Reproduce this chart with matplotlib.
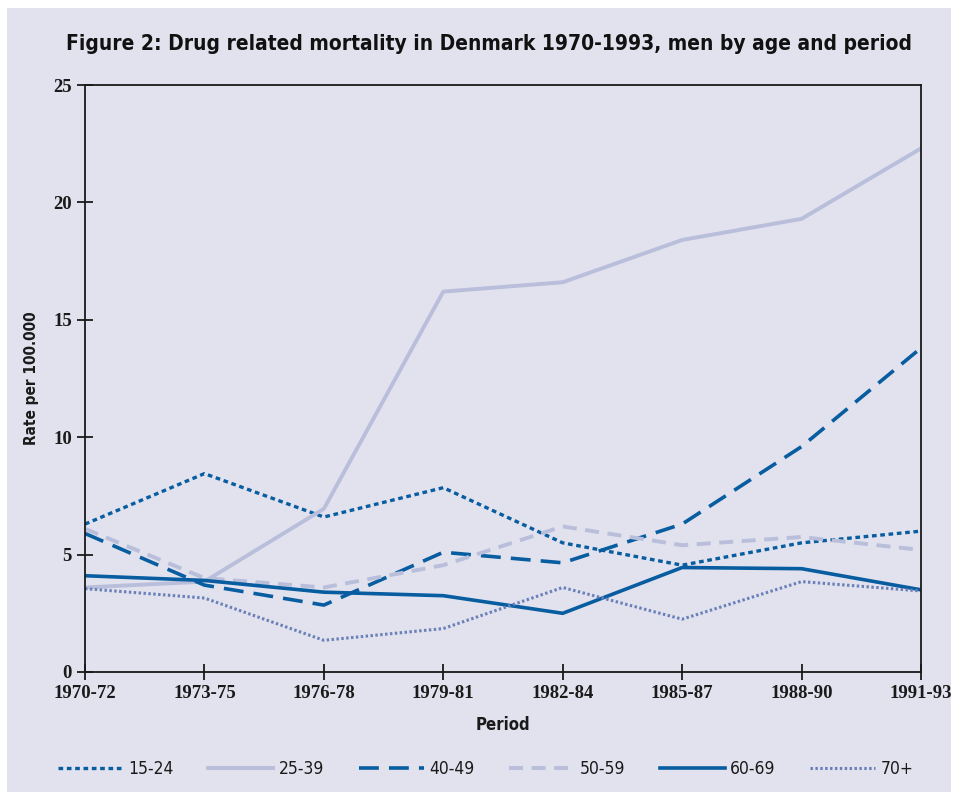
import matplotlib.pyplot as plt
from matplotlib.patches import Rectangle

# data
periods = ['1970-72', '1973-75', '1976-78', '1979-81', '1982-84', '1985-87', '1988-90', '1991-93']
age_15_24 = [6.3, 8.45, 6.6, 7.85, 5.5, 4.55, 5.5, 6.0]
age_25_39 = [3.6, 3.85, 6.95, 16.2, 16.6, 18.4, 19.3, 22.3]
age_40_49 = [5.9, 3.7, 2.85, 5.1, 4.65, 6.3, 9.6, 13.8]
age_50_59 = [6.1, 4.0, 3.6, 4.55, 6.2, 5.4, 5.75, 5.2]
age_60_69 = [4.1, 3.9, 3.4, 3.25, 2.5, 4.45, 4.4, 3.5]
age_70p = [3.55, 3.15, 1.35, 1.85, 3.6, 2.25, 3.85, 3.45]

dark = '#075da0'
light = '#b9bedb'
mid = '#6a80b8'
bg = '#e2e2ee'

fig = plt.figure(figsize=(9.56, 7.96), dpi=100)
fig.patch.set_facecolor('white')
fig.patches.append(Rectangle((7 / 956, 4 / 796), 944 / 956, 784 / 796,
                             transform=fig.transFigure, facecolor=bg,
                             edgecolor='none', zorder=-10))

ax = fig.add_axes([85 / 956, 1 - 672 / 796, 836 / 956, 587 / 796])
ax.set_facecolor(bg)

x = range(len(periods))
ax.plot(x, age_15_24, color=dark, lw=2.4, dashes=(1.4, 1.1), label='15-24')
ax.plot(x, age_25_39, color=light, lw=2.8, label='25-39')
ax.plot(x, age_40_49, color=dark, lw=2.6, dashes=(5.5, 2.8), label='40-49')
ax.plot(x, age_50_59, color=light, lw=2.8, dashes=(3.6, 2.2), label='50-59')
ax.plot(x, age_60_69, color=dark, lw=2.6, label='60-69')
ax.plot(x, age_70p, color=mid, lw=2.2, dashes=(0.8, 0.8), label='70+')

ax.set_xlim(0, len(periods) - 1)
ax.set_ylim(0, 25)
ax.set_xticks(list(x))
ax.set_xticklabels(periods)
ax.set_yticks([0, 5, 10, 15, 20, 25])

for s in ax.spines.values():
    s.set_color('#1a1a1a')
    s.set_linewidth(1.3)

ax.tick_params(direction='inout', length=11, width=1.3, color='#1a1a1a')
ax.tick_params(axis='x', pad=4)
ax.tick_params(axis='y', pad=4)
for lab in ax.get_xticklabels() + ax.get_yticklabels():
    lab.set_fontfamily('Liberation Serif')
    lab.set_fontweight('bold')
    lab.set_fontsize(13.5)
    lab.set_color('#1a1a1a')

ax.set_xlabel('Period', fontsize=12, fontweight='bold', family='DejaVu Sans',
              fontstretch='condensed', labelpad=10, color='#1a1a1a')
ax.set_ylabel('Rate per 100.000', fontsize=11, fontweight='bold', family='DejaVu Sans',
              fontstretch='condensed', labelpad=10, color='#1a1a1a')

fig.text(0.511, 1 - 44 / 796, 'Figure 2: Drug related mortality in Denmark 1970-1993, men by age and period',
         ha='center', va='center', fontsize=15.0, fontweight='bold', family='DejaVu Sans',
         fontstretch='condensed', color='#111111')

leg = fig.legend(loc='center', bbox_to_anchor=(0.508, 1 - 769 / 796), ncol=6, frameon=False,
                 handlelength=3.75, handletextpad=0.3, columnspacing=2.0,
                 prop={'family': 'DejaVu Sans', 'stretch': 'condensed', 'size': 12.5})
for t in leg.get_texts():
    t.set_color('#1a1a1a')

fig.savefig('out.png', dpi=100, facecolor=fig.get_facecolor())
